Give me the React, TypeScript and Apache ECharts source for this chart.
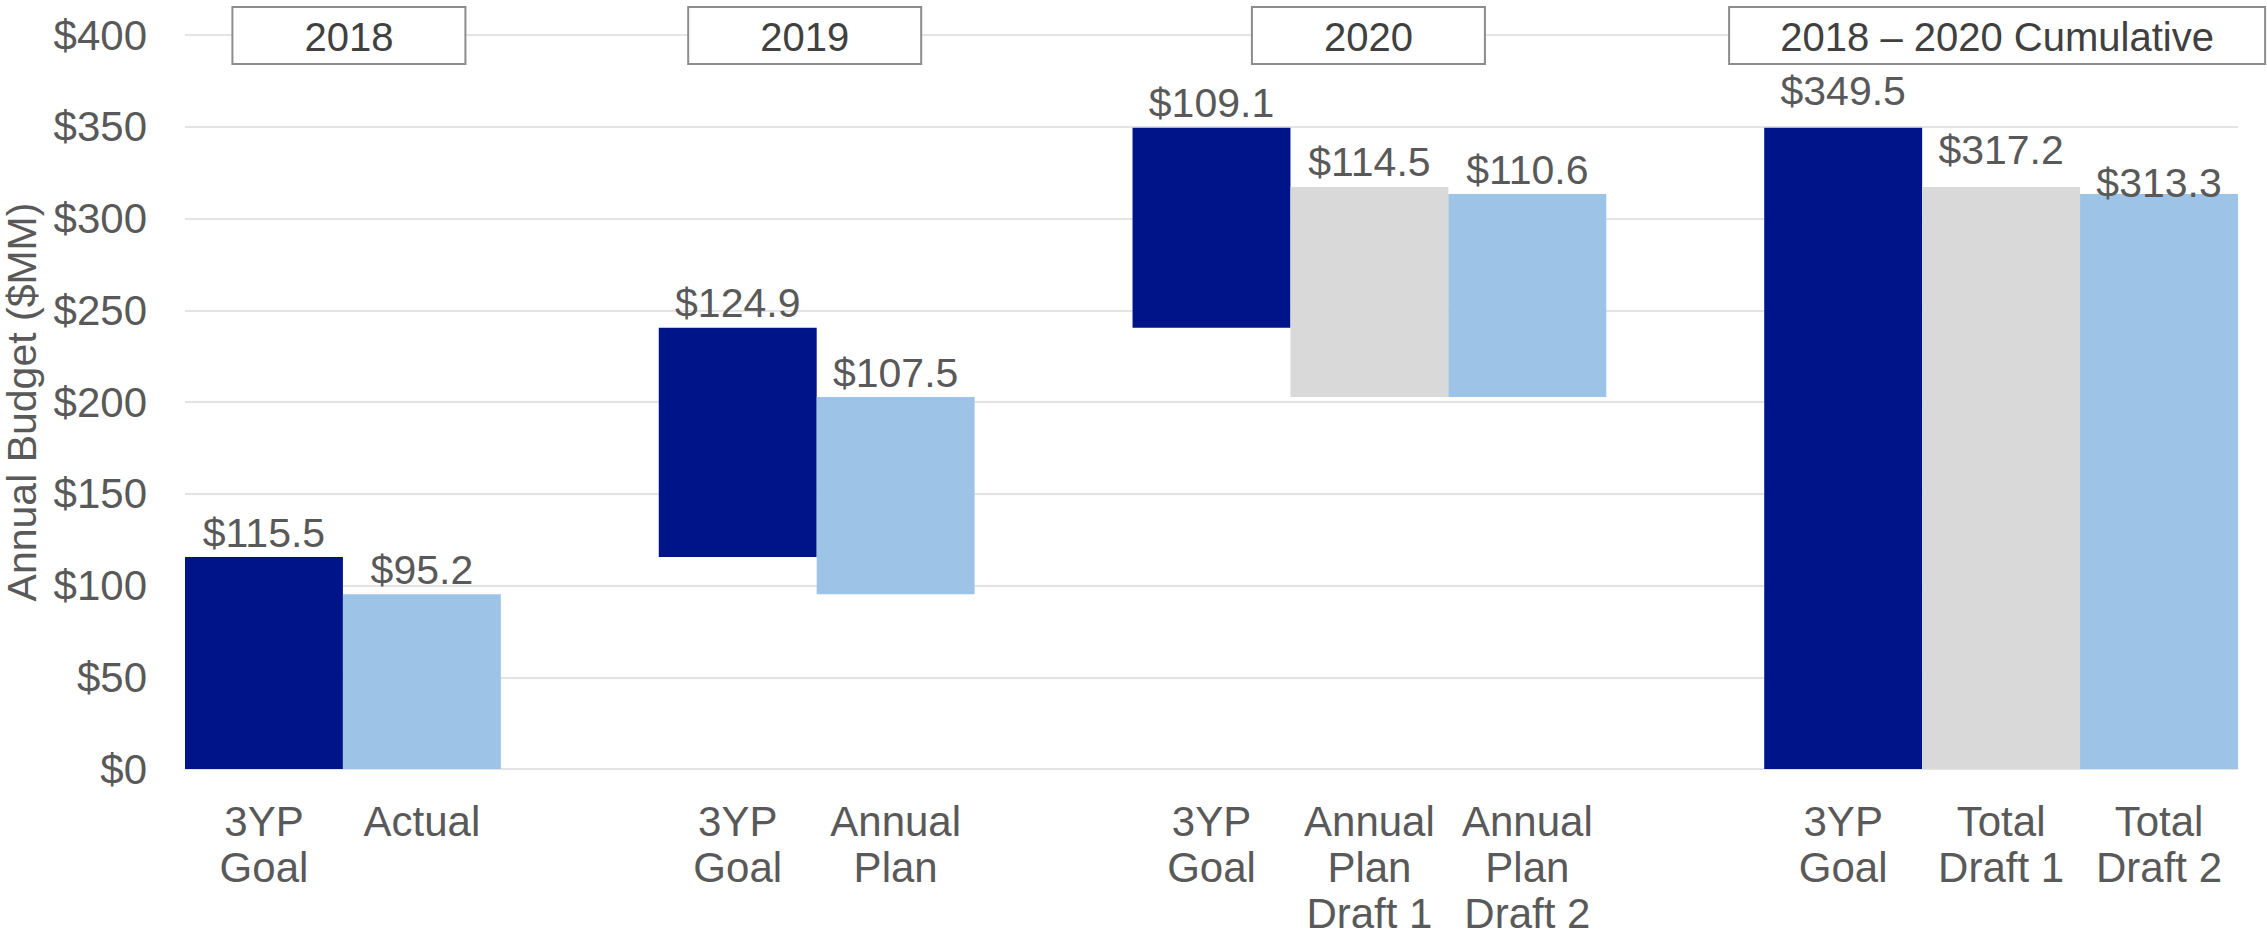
import React, { useEffect, useRef } from "react";
import * as echarts from "echarts";

const categories = [
  "2018 3YP Goal", "2018 Actual", "gap-1",
  "2019 3YP Goal", "2019 Annual Plan", "gap-2",
  "2020 3YP Goal", "2020 Annual Plan Draft 1", "2020 Annual Plan Draft 2", "gap-3",
  "Cumulative 3YP Goal", "Cumulative Total Draft 1", "Cumulative Total Draft 2",
];
const tickLabels = [
  "3YP\nGoal", "Actual", "",
  "3YP\nGoal", "Annual\nPlan", "",
  "3YP\nGoal", "Annual\nPlan\nDraft 1", "Annual\nPlan\nDraft 2", "",
  "3YP\nGoal", "Total\nDraft 1", "Total\nDraft 2",
];
// invisible floating base of each bar ($MM)
const baseValues = [0, 0, null, 115.5, 95.2, null, 240.4, 202.7, 202.7, null, 0, 0, 0];
// visible bar height ($MM)
const barValues = [115.5, 95.2, null, 124.9, 107.5, null, 109.1, 114.5, 110.6, null, 349.5, 317.2, 313.3];
const barKinds = ["goal", "plan", null, "goal", "plan", null, "goal", "draft1", "plan", null, "goal", "draft1", "plan"];
const yTicks = [0, 50, 100, 150, 200, 250, 300, 350, 400];

const groupTitles = ["2018", "2019", "2020", "2018 \u2013 2020 Cumulative"];
const groupFirst = [0, 3, 6, 10];
const groupLast = [1, 4, 8, 12];

const kindColors: Record<string, string> = {
  goal: "#001489",
  plan: "#9DC3E6",
  draft1: "#D9D9D9",
};

const FONT = "'Liberation Sans', Arial, sans-serif";
const LABEL_COLOR = "#595959";

export default function App() {
  const ref = useRef<HTMLDivElement>(null);

  useEffect(() => {
    document.body.style.margin = "0";
    if (!ref.current) return;
    const chart = echarts.init(ref.current, null, { renderer: "svg" });

    // manual vertical nudges of some value labels (as placed in the original)
    const labelNudge: Record<number, number> = { 10: -12, 11: -12, 12: 13 };
    // header box geometry (style)
    const boxWidths = [233, 233, 233, 536];
    const boxShift = [6, -12, -1, -4];

    const option: any = {
      animation: false,
      backgroundColor: "#ffffff",
      grid: {
        left: 185,
        right: 29,
        top: 35,
        bottom: 168,
        containLabel: false,
        outerBoundsMode: "none",
      },
      xAxis: {
        type: "category",
        data: categories,
        axisLine: { show: false },
        axisTick: { show: false },
        splitLine: { show: false },
        axisLabel: {
          interval: 0,
          formatter: (_v: string, i: number) => tickLabels[i],
          color: LABEL_COLOR,
          fontFamily: FONT,
          fontSize: 42,
          lineHeight: 46,
          margin: 29,
          align: "center",
        },
      },
      yAxis: {
        type: "value",
        min: yTicks[0],
        max: yTicks[yTicks.length - 1],
        interval: yTicks[1] - yTicks[0],
        name: "Annual Budget ($MM)",
        nameLocation: "middle",
        nameGap: 130,
        nameTextStyle: { color: LABEL_COLOR, fontFamily: FONT, fontSize: 41 },
        axisLine: { show: false },
        axisTick: { show: false },
        axisLabel: {
          formatter: (v: number) => "$" + v,
          color: LABEL_COLOR,
          fontFamily: FONT,
          fontSize: 42,
          margin: 38,
        },
        splitLine: { show: true, lineStyle: { color: "#E4E4E4", width: 2 } },
      },
      series: [
        {
          type: "bar",
          stack: "w",
          silent: true,
          barCategoryGap: "0%",
          itemStyle: { color: "transparent" },
          data: baseValues,
        },
        {
          type: "bar",
          stack: "w",
          barCategoryGap: "0%",
          data: barValues.map((v, i) =>
            v == null
              ? null
              : {
                  value: v,
                  itemStyle: { color: kindColors[barKinds[i] as string] },
                  label: labelNudge[i] ? { offset: [0, labelNudge[i]] } : undefined,
                }
          ),
          label: {
            show: true,
            position: "top",
            distance: 4,
            formatter: (p: any) => "$" + Number(p.value).toFixed(1),
            color: LABEL_COLOR,
            fontFamily: FONT,
            fontSize: 41,
          },
        },
      ],
    };
    chart.setOption(option);

    // group header boxes placed from the category axis positions
    const band = (chart.convertToPixel({ xAxisIndex: 0 }, categories[1]) as number) -
      (chart.convertToPixel({ xAxisIndex: 0 }, categories[0]) as number);
    const graphics: any[] = [];
    groupTitles.forEach((title, g) => {
      const x0 = (chart.convertToPixel({ xAxisIndex: 0 }, categories[groupFirst[g]]) as number) - band / 2;
      const x1 = (chart.convertToPixel({ xAxisIndex: 0 }, categories[groupLast[g]]) as number) + band / 2;
      const cx = (x0 + x1) / 2 + boxShift[g];
      const w = boxWidths[g];
      graphics.push({
        type: "rect",
        z: 100,
        shape: { x: cx - w / 2, y: 7, width: w, height: 57 },
        style: { fill: "#ffffff", stroke: "#8C8C8C", lineWidth: 2 },
      });
      graphics.push({
        type: "text",
        z: 101,
        x: cx,
        y: 37,
        style: {
          text: title,
          fill: "#404040",
          fontFamily: FONT,
          fontSize: 40,
          align: "center",
          verticalAlign: "middle",
        },
      });
    });
    chart.setOption({ graphic: graphics });

    return () => chart.dispose();
  }, []);

  return (
    <div
      ref={ref}
      style={{ position: "absolute", left: 0, top: 0, width: 2267, height: 937 }}
    />
  );
}
